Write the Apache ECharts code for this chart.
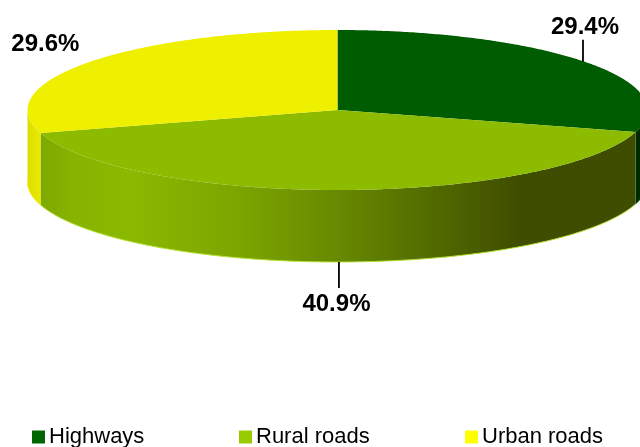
<!DOCTYPE html>
<html><head><meta charset="utf-8">
<style>html,body{margin:0;padding:0;background:#fff;overflow:hidden}#c{width:640px;height:447px}</style>
<script src="https://cdn.jsdelivr.net/npm/echarts@6/dist/echarts.min.js"></script>
</head><body><div id="c"></div>
<script>
const categories = ['Highways', 'Rural roads', 'Urban roads'];
const shares = [29.4, 40.9, 29.6];
const legendColors = ['#006600', '#99CC00', '#FFFF00'];
const topColors = ['#005C00', '#8CBB00', '#EFEF00'];

const CX = 337.5, CY = 110, RX = 310, RY = 80, DEPTH = 72;
const total = shares.reduce((a, b) => a + b, 0);
const labelOffsets = [[0, -34], [-3, 42.5], [-43.5, -18]];
const leaderLengths = [22, 26, 0];
const leaderShift = [-2, -0.5, 0];
const legendLeft = [32, 239, 465];

const sideFills = [
  { type: 'linear', x: 630, y: 0, x2: 647, y2: 0, global: true,
    colorStops: [{ offset: 0, color: '#003200' }, { offset: 1, color: '#002400' }] },
  { type: 'linear', x: 41, y: 0, x2: 633, y2: 0, global: true,
    colorStops: [
      { offset: 0, color: '#7EA900' }, { offset: 0.06, color: '#88B400' },
      { offset: 0.15, color: '#8BB800' }, { offset: 0.336, color: '#7CA500' },
      { offset: 0.505, color: '#678800' }, { offset: 0.674, color: '#506800' },
      { offset: 0.81, color: '#3F4D00' }, { offset: 1, color: '#3F4D00' }] },
  { type: 'linear', x: 28, y: 0, x2: 41, y2: 0, global: true,
    colorStops: [{ offset: 0, color: '#DEDE00' }, { offset: 1, color: '#EAEA00' }] }
];

function pt(deg, dy) {
  const a = deg * Math.PI / 180;
  return [CX + RX * Math.sin(a), CY - RY * Math.cos(a) + (dy || 0)];
}
function arc(a, b, dy) {
  const out = [], n = Math.max(2, Math.ceil(Math.abs(b - a) * 2));
  for (let i = 0; i <= n; i++) out.push(pt(a + (b - a) * i / n, dy));
  return out;
}
function renderSlice(index) {
  const before = shares.slice(0, index).reduce((a, b) => a + b, 0);
  const a0 = before / total * 360, a1 = (before + shares[index]) / total * 360, mid = (a0 + a1) / 2;
  const kids = [];
  const s0 = Math.max(a0, 90), s1 = Math.min(a1, 270);
  if (s1 > s0) {
    const upper = arc(s0, s1, 0), lower = arc(s0, s1, DEPTH);
    kids.push({ type: 'polygon', shape: { points: upper.concat(lower.slice().reverse()) },
      style: { fill: sideFills[index], stroke: null } });
    kids.push({ type: 'polyline', shape: { points: lower },
      style: { fill: null, stroke: index === 1 ? '#B4E230' : topColors[index], lineWidth: 1 } });
  }
  const wedge = [[CX, CY]].concat(arc(a0, a1, 0));
  kids.push({ type: 'polygon', shape: { points: wedge }, style: { fill: topColors[index], stroke: null } });
  const front = mid > 90 && mid < 270;
  const anchor = pt(mid, front ? DEPTH : 0);
  if (leaderLengths[index]) {
    const sign = front ? 1 : -1, lx = anchor[0] + leaderShift[index];
    kids.push({ type: 'line',
      shape: { x1: lx, y1: anchor[1], x2: lx, y2: anchor[1] + sign * leaderLengths[index] },
      style: { stroke: '#000', lineWidth: 1.8 } });
  }
  kids.push({ type: 'text', z2: 50,
    x: anchor[0] + labelOffsets[index][0], y: anchor[1] + labelOffsets[index][1],
    style: { text: shares[index].toFixed(1) + '%', fill: '#000', align: 'center', verticalAlign: 'middle',
      font: 'bold 24px "Liberation Sans", Arial, sans-serif' } });
  return { type: 'group', children: kids };
}

const chart = echarts.init(document.getElementById('c'), null, { renderer: 'canvas' });
chart.setOption({
  animation: false,
  backgroundColor: '#fff',
  legend: categories.map((c, i) => ({
    data: [c], left: legendLeft[i], top: 426, padding: 0, itemWidth: 13, itemHeight: 13, itemGap: 0,
    icon: 'rect', selectedMode: false,
    textStyle: { color: '#000', fontSize: 22, fontFamily: '"Liberation Sans", Arial, sans-serif', padding: [2, 0, 0, -1] }
  })),
  series: categories.map((c, i) => ({
    type: 'custom', name: c, coordinateSystem: 'none', silent: true,
    itemStyle: { color: legendColors[i] },
    data: [shares[i]], clip: false,
    renderItem: () => renderSlice(i)
  }))
});
</script></body></html>
